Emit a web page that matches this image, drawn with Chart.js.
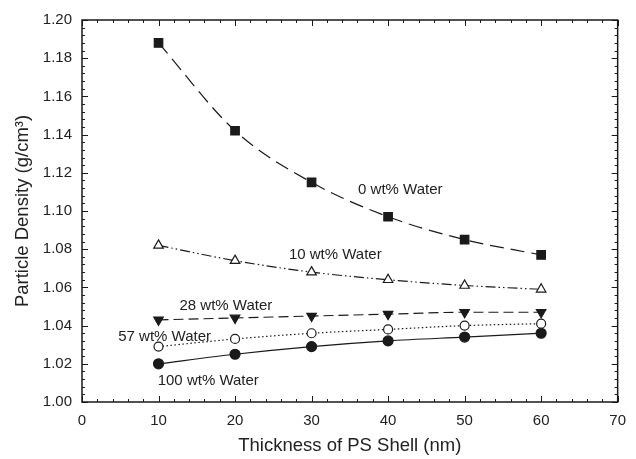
<!DOCTYPE html>
<html>
<head>
<meta charset="utf-8">
<script src="https://cdn.jsdelivr.net/npm/chart.js@4"></script>
<style>
  html, body { margin: 0; padding: 0; background: #fff; }
  #wrap { width: 636px; height: 459px; }
</style>
</head>
<body>
<div id="wrap"><canvas id="myChart" width="636" height="459"></canvas></div>
<script>
// shell thickness (nm)
const thickness = [10, 20, 30, 40, 50, 60];

// particle density (g/cm3) per water content
const water0 = [1.188, 1.142, 1.115, 1.097, 1.085, 1.077];
const water10 = [1.082, 1.074, 1.068, 1.064, 1.061, 1.059];
const water28 = [1.043, 1.044, 1.045, 1.046, 1.047, 1.047];
const water57 = [1.029, 1.033, 1.036, 1.038, 1.040, 1.041];
const water100 = [1.020, 1.025, 1.029, 1.032, 1.034, 1.036];

const seriesNames = ['0 wt% Water', '10 wt% Water', '28 wt% Water', '57 wt% Water', '100 wt% Water'];
// where the curve labels sit, in data units
const labelX = [41.6, 33.1, 18.8, 10.8, 16.5];
const labelY = [1.111, 1.0772, 1.0505, 1.034, 1.011];

const ink = '#1a1a1a';
const txt = '#222';
const fontName = '"Liberation Sans", Arial, sans-serif';

function pts(ys) {
    return thickness.map((x, i) => ({x: x, y: ys[i]}));
}

const data = {
    datasets: [
        {label: seriesNames[0], data: pts(water0), borderDash: [14, 7],
         pointStyle: 'rect', pointRadius: 6, backgroundColor: ink, pointBackgroundColor: ink},
        {label: seriesNames[1], data: pts(water10), borderDash: [10, 3, 1.5, 3, 1.5, 3],
         pointStyle: 'triangle', pointRadius: 5.5, pointBackgroundColor: '#fff'},
        {label: seriesNames[2], data: pts(water28), borderDash: [10, 5],
         pointStyle: 'triangle', pointRotation: 180, pointRadius: 5.5, pointBackgroundColor: ink},
        {label: seriesNames[3], data: pts(water57), borderDash: [1.5, 2.5],
         pointStyle: 'circle', pointRadius: 4.5, pointBackgroundColor: '#fff'},
        {label: seriesNames[4], data: pts(water100), borderDash: [],
         pointStyle: 'circle', pointRadius: 5, pointBackgroundColor: ink}
    ]
};
data.datasets.forEach(d => {
    d.borderColor = ink;
    d.pointBorderColor = ink;
    d.borderWidth = 1.2;
    d.pointBorderWidth = 1.2;
    d.cubicInterpolationMode = 'monotone';
    d.fill = false;
});

// frame + inward ticks on all four sides, and the curve labels
const framePlugin = {
    id: 'frame',
    afterDatasetsDraw(chart) {
        const ctx = chart.ctx;
        const a = chart.chartArea;
        const xs = chart.scales.x, ys = chart.scales.y;
        ctx.save();
        ctx.strokeStyle = ink;
        ctx.lineWidth = 1.5;
        ctx.strokeRect(a.left, a.top, a.right - a.left, a.bottom - a.top);
        ctx.lineWidth = 1;
        ctx.beginPath();
        for (let v = 0; v <= 70; v += 2) {
            const px = Math.round(xs.getPixelForValue(v)) + 0.5;
            const len = v % 10 === 0 ? 6 : 3;
            ctx.moveTo(px, a.bottom); ctx.lineTo(px, a.bottom - len);
            ctx.moveTo(px, a.top); ctx.lineTo(px, a.top + len);
        }
        for (let k = 0; k <= 50; k++) {
            const v = 1 + k * 0.004;
            const py = Math.round(ys.getPixelForValue(v)) + 0.5;
            const len = k % 5 === 0 ? 6 : 3;
            ctx.moveTo(a.left, py); ctx.lineTo(a.left + len, py);
            ctx.moveTo(a.right, py); ctx.lineTo(a.right - len, py);
        }
        ctx.stroke();

        ctx.fillStyle = txt;
        ctx.font = '15px ' + fontName;
        ctx.textAlign = 'center';
        ctx.textBaseline = 'middle';
        seriesNames.forEach((n, i) => {
            ctx.fillText(n, xs.getPixelForValue(labelX[i]), ys.getPixelForValue(labelY[i]));
        });
        ctx.restore();
    }
};

const config = {
    type: 'line',
    data: data,
    options: {
        responsive: false,
        animation: false,
        layout: {padding: {top: 20, right: 8, left: 0, bottom: 0}},
        plugins: {legend: {display: false}, tooltip: {enabled: false}},
        scales: {
            x: {
                type: 'linear', min: 0, max: 70,
                grid: {display: false, drawTicks: false},
                border: {display: false},
                ticks: {stepSize: 10, padding: 10, color: txt, font: {family: fontName, size: 15}},
                title: {display: true, text: 'Thickness of PS Shell (nm)', color: txt,
                        font: {family: fontName, size: 18.5, lineHeight: 1}, padding: {bottom: 4}},
                afterFit(s) { s.height = 57; }
            },
            y: {
                type: 'linear', min: 1.0, max: 1.2,
                grid: {display: false, drawTicks: false},
                border: {display: false},
                ticks: {stepSize: 0.02, padding: 10, color: txt, font: {family: fontName, size: 15},
                        callback: v => v.toFixed(2)},
                title: {display: true, text: 'Particle Density (g/cm³)', color: txt,
                        font: {family: fontName, size: 18.5, lineHeight: 1}, padding: {top: 14}},
                afterFit(s) { s.width = 82; }
            }
        }
    },
    plugins: [framePlugin]
};

const myChart = new Chart(document.getElementById('myChart'), config);
</script>
</body>
</html>
